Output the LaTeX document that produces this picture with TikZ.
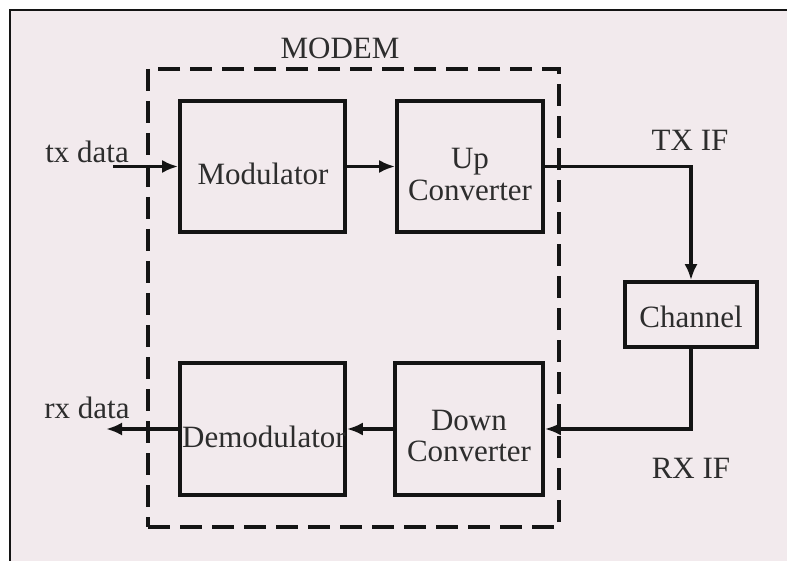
\documentclass[tikz,border=0pt]{standalone}
\usepackage{fontspec}
\setmainfont{Liberation Serif}
\usetikzlibrary{arrows.meta}
\definecolor{bgc}{RGB}{242,234,237}
\definecolor{txc}{RGB}{45,45,45}
\definecolor{lnc}{RGB}{20,20,20}
\begin{document}
\begin{tikzpicture}[x=1pt,y=-1pt,
  blk/.style={draw=lnc,line width=3.6pt,rectangle,inner sep=0pt},
  txt/.style={text=txc,font=\fontsize{31}{32}\selectfont,align=center,inner sep=0pt},
  conn/.style={draw=lnc,line width=3.6pt},
  arr/.style={conn,-{Latex[length=16pt,width=13pt]}},
  dashbox/.style={draw=lnc,line width=3.6pt,dash pattern=on 22pt off 10pt,rectangle,inner sep=0pt}]
\useasboundingbox (0,0) rectangle (787,561);
\fill[white] (0,0) rectangle (787,561);
\fill[bgc] (10,10) rectangle (787,561);
\draw[lnc,line width=2.6pt] (10,561) -- (10,10) -- (787,10);
% dashed modem box
\node[dashbox,minimum width=411pt,minimum height=458pt] (modem) at (353.5,298) {};
\node[txt] (modemt) at (340,48) {MODEM};
% blocks
\node[blk,minimum width=165pt,minimum height=131pt] (mod) at (262.5,166.5) {};
\node[blk,minimum width=146pt,minimum height=131pt] (up) at (470,166.5) {};
\node[blk,minimum width=132pt,minimum height=65pt] (chan) at (691,314.5) {};
\node[blk,minimum width=148pt,minimum height=132pt] (down) at (469,429) {};
\node[blk,minimum width=165pt,minimum height=132pt] (demod) at (262.5,429) {};
% texts
\node[txt] (modt) at (263,174) {Modulator};
\node[txt] (upt) at (470,175) {Up\\Converter};
\node[txt] (chant) at (691,317) {Channel};
\node[txt] (downt) at (469,436) {Down\\Converter};
\node[txt] (demodt) at (264,437) {Demodulator};
\node[txt] (txd) at (87,152) {tx data};
\node[txt] (rxd) at (87,408) {rx data};
\node[txt] (txif) at (690,140) {TX IF};
\node[txt] (rxif) at (691,468) {RX IF};
% connectors
\coordinate (txin) at (113,166.5);
\coordinate (rxout) at (106,429);
\draw[arr] (txin) -- (mod.west);
\draw[arr] (mod.east) -- (up.west);
\draw[arr] (up.east) -| (chan.north);
\draw[arr] (chan.south) |- (down.east);
\draw[arr] (down.west) -- (demod.east);
\draw[arr] (demod.west) -- (rxout);
\end{tikzpicture}
\end{document}
